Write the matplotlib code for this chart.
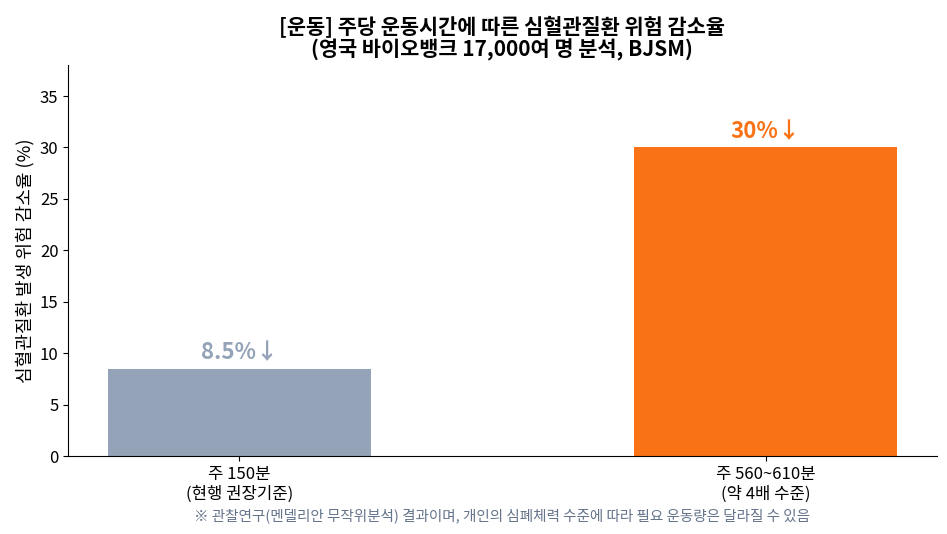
import matplotlib
matplotlib.use("Agg")
import matplotlib.pyplot as plt

plt.rcParams['font.family'] = ['Noto Sans CJK KR', 'DejaVu Sans']

categories = ['주 150분\n(현행 권장기준)', '주 560~610분\n(약 4배 수준)']
reduction = [8.5, 30]
labels = ['8.5%↓', '30%↓']
colors = ['#94a3b8', '#f97316']

fig, ax = plt.subplots(figsize=(9.47, 5.34), dpi=100)
bars = ax.bar(range(len(categories)), reduction, width=0.5, color=colors)

for bar, lab, c in zip(bars, labels, colors):
    ax.text(bar.get_x() + bar.get_width() / 2, bar.get_height() + 0.4, lab,
            ha='center', va='bottom', fontsize=16, fontweight='bold', color=c)

ax.set_xticks(range(len(categories)))
ax.set_xticklabels(categories, fontsize=12)
ax.tick_params(axis='y', labelsize=12)
ax.set_ylim(0, 38)
ax.set_ylabel('심혈관질환 발생 위험 감소율 (%)', fontsize=13)
ax.set_title('[운동] 주당 운동시간에 따른 심혈관질환 위험 감소율\n(영국 바이오뱅크 17,000여 명 분석, BJSM)',
             fontsize=15, fontweight='bold', linespacing=1.1)
ax.spines['top'].set_visible(False)
ax.spines['right'].set_visible(False)

# footnote centred under the axes, not the figure
ax.text(0.5, -0.133, '※ 관찰연구(멘델리안 무작위분석) 결과이며, 개인의 심폐체력 수준에 따라 필요 운동량은 달라질 수 있음',
        transform=ax.transAxes, ha='center', va='top', fontsize=10.5, color='#64748b')

fig.subplots_adjust(left=0.072, right=0.989, top=0.878, bottom=0.146)
fig.savefig('out.png', dpi=100)
